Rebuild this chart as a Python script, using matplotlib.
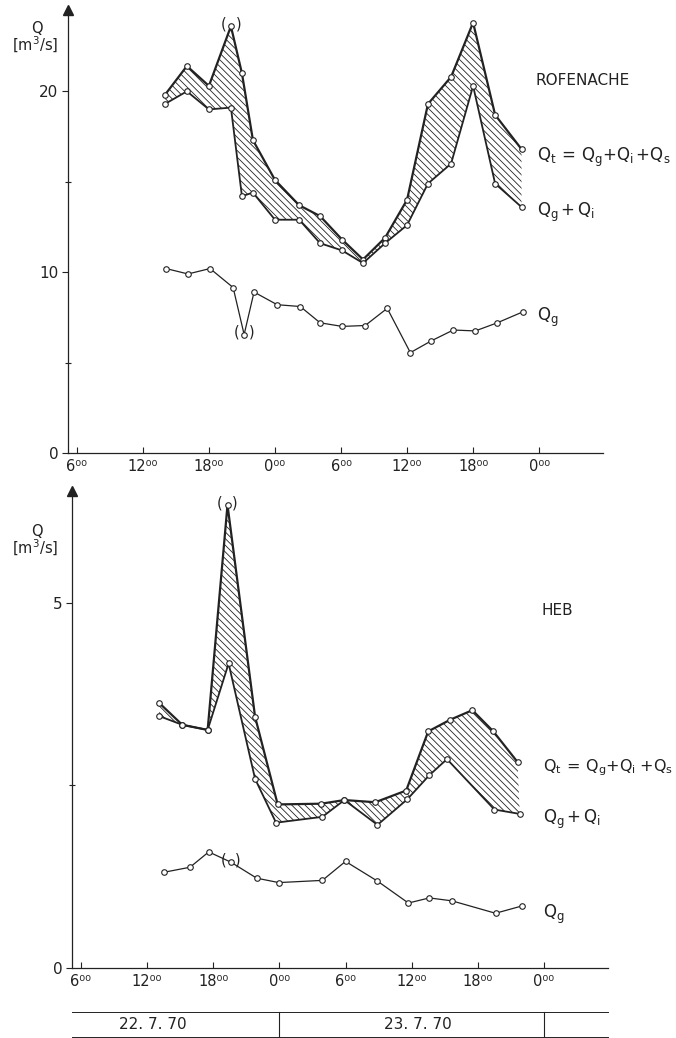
import numpy as np
import matplotlib.pyplot as plt
from matplotlib.transforms import blended_transform_factory

# hours counted from 22.7.70 00:00
tick_hours = [6, 12, 18, 24, 30, 36, 42, 48]
tick_labels = ['6⁰⁰', '12⁰⁰', '18⁰⁰', '0⁰⁰', '6⁰⁰', '12⁰⁰', '18⁰⁰', '0⁰⁰']
day_labels = ['22. 7. 70', '23. 7. 70']
day_centers = [12.5, 36.6]
day_bounds = [24, 48]

# ROFENACHE
rof_x = [14, 16, 18, 20, 21, 22, 24, 26.2, 28.1, 30.1, 32, 34, 36, 37.9, 40, 42, 44, 46.4]
rof_qt = [19.8, 21.4, 20.3, 23.6, 21.0, 17.3, 15.1, 13.7, 13.1, 11.8, 10.7, 11.9, 14.0, 19.3, 20.8, 23.8, 18.7, 16.8]
rof_qgi = [19.3, 20.0, 19.0, 19.1, 14.2, 14.4, 12.9, 12.9, 11.6, 11.2, 10.5, 11.6, 12.6, 14.9, 16.0, 20.3, 14.9, 13.6]
rof_g_x = [14.1, 16.1, 18.1, 20.2, 21.2, 22.1, 24.2, 26.3, 28.1, 30.1, 32.2, 34.2, 36.3, 38.2, 40.2, 42.2, 44.2, 46.5]
rof_qg = [10.2, 9.9, 10.2, 9.15, 6.55, 8.9, 8.2, 8.1, 7.2, 7.0, 7.05, 8.0, 5.55, 6.2, 6.8, 6.75, 7.2, 7.8]

# HEB
heb_t_x = [13.1, 15.2, 17.5, 19.3, 21.8, 23.85, 27.8, 29.9, 32.7, 35.5, 37.5, 39.5, 41.5, 43.4, 45.6]
heb_qt = [3.63, 3.33, 3.26, 6.34, 3.44, 2.24, 2.25, 2.30, 2.27, 2.43, 3.24, 3.40, 3.53, 3.24, 2.82]
heb_gi_x = [13.1, 15.2, 17.5, 19.4, 21.8, 23.7, 27.9, 29.9, 32.9, 35.6, 37.6, 39.2, 43.5, 45.8]
heb_qgi = [3.45, 3.33, 3.26, 4.17, 2.59, 1.99, 2.07, 2.30, 1.96, 2.31, 2.64, 2.86, 2.17, 2.11]
heb_g_x = [13.5, 15.9, 17.6, 19.6, 21.95, 23.95, 27.9, 30.0, 32.9, 35.7, 37.6, 39.65, 43.6, 46.0]
heb_qg = [1.31, 1.38, 1.59, 1.45, 1.23, 1.17, 1.20, 1.46, 1.19, 0.89, 0.96, 0.92, 0.75, 0.85]

ink = '#222222'
plt.rcParams['font.family'] = ['DejaVu Sans']
plt.rcParams['mathtext.fontset'] = 'dejavusans'
plt.rcParams['hatch.linewidth'] = 0.6

fig = plt.figure(figsize=(6.76, 10.38), dpi=100)
ax1 = fig.add_axes([0.1006, 0.5636, 0.7914, 0.4268])
ax2 = fig.add_axes([0.1065, 0.0674, 0.7929, 0.4595])


def draw_panel(ax, tx, qt, gix, qgi, gx, qg, ylim, major, minor):
    # hatched band between Qt and Qg+Qi
    ax.fill(np.concatenate([tx, gix[::-1]]), np.concatenate([qt, qgi[::-1]]),
            facecolor='none', edgecolor=ink, hatch='\\\\\\\\\\', linewidth=0)
    mk = dict(marker='o', ms=4, mfc='white', mec=ink, mew=0.8)
    ax.plot(tx, qt, color=ink, lw=1.6, **mk)
    ax.plot(gix, qgi, color=ink, lw=1.3, **mk)
    ax.plot(gx, qg, color=ink, lw=0.9, **mk)

    ax.set_xlim(5.2, 53.8)
    ax.set_ylim(*ylim)
    for s in ['top', 'right']:
        ax.spines[s].set_visible(False)
    for s in ['left', 'bottom']:
        ax.spines[s].set_linewidth(0.9)
        ax.spines[s].set_color(ink)
    ax.set_xticks(tick_hours)
    ax.set_xticklabels(tick_labels)
    ax.set_yticks(major)
    ax.set_yticks(minor, minor=True)
    ax.tick_params(axis='x', direction='in', length=4, width=0.8, pad=4,
                   labelsize=10.5, colors=ink)
    ax.tick_params(axis='y', which='major', direction='out', length=4, width=0.8,
                   pad=3, labelsize=11, colors=ink)
    ax.tick_params(axis='y', which='minor', direction='inout', length=4, width=0.8, colors=ink)
    # arrow head on the y axis
    ax.plot(0, 1, marker='^', ms=7, color=ink, transform=ax.transAxes, clip_on=False)
    ax.patch.set_alpha(0)


draw_panel(ax1, rof_x, rof_qt, rof_x, rof_qgi, rof_g_x, rof_qg,
           (0, 24.5), [0, 10, 20], [5, 15])
draw_panel(ax2, heb_t_x, heb_qt, heb_gi_x, heb_qgi, heb_g_x, heb_qg,
           (0, 6.53), [0, 5], [2.5])


def paren(ax, x, y, off=5.5):
    # the "( )" marks around doubtful readings
    ax.annotate('(', (x, y), xytext=(-off, 1.5), textcoords='offset points',
                ha='center', va='center', fontsize=10.5, color=ink)
    ax.annotate(')', (x, y), xytext=(off, 1.5), textcoords='offset points',
                ha='center', va='center', fontsize=10.5, color=ink)


paren(ax1, rof_x[3], rof_qt[3])
paren(ax1, rof_g_x[4], rof_qg[4])
paren(ax2, heb_t_x[3], heb_qt[3])
paren(ax2, heb_g_x[3], heb_qg[3], off=5)

# y axis titles
for ax, yq in [(ax1, 0.973), (ax2, 0.488)]:
    fig.text(0.055, yq, 'Q', ha='center', va='center', fontsize=10.5, color=ink)
    fig.text(0.052, yq - 0.016, '[m$^3$/s]', ha='center', va='center', fontsize=10.5, color=ink)

# curve labels
qt_lab = r'$\mathregular{Q_t\,{=}\,Q_g{+}Q_i\,{+}Q_s}$'
qt_lab2 = r'$\mathregular{Q_t\,{=}\,Q_g{+}Q_i\;{+}Q_s}$'
qgi_lab = r'$\mathregular{Q_g\,{+}\,Q_i}$'
qg_lab = r'$\mathregular{Q_g}$'
ax1.text(47.7, 20.6, 'ROFENACHE', fontsize=11, color=ink, va='center')
ax1.text(47.8, 16.35, qt_lab, fontsize=12, color=ink, va='center')
ax1.text(47.8, 13.3, qgi_lab, fontsize=12, color=ink, va='center')
ax1.text(47.8, 7.5, qg_lab, fontsize=12, color=ink, va='center')

ax2.text(47.8, 4.9, 'HEB', fontsize=11, color=ink, va='center')
ax2.text(47.9, 2.74, qt_lab2, fontsize=11.5, color=ink, va='center')
ax2.text(47.9, 2.03, qgi_lab, fontsize=12, color=ink, va='center')
ax2.text(47.9, 0.74, qg_lab, fontsize=12, color=ink, va='center')

# date strip under the lower panel
tr = blended_transform_factory(ax2.transData, fig.transFigure)
for yl in [0.0251, 0.0012]:
    ax2.plot([5.2, 53.8], [yl, yl], color=ink, lw=0.7, transform=tr, clip_on=False)
for xb in day_bounds:
    ax2.plot([xb, xb], [0.0012, 0.0251], color=ink, lw=0.8, transform=tr, clip_on=False)
for xc, lab in zip(day_centers, day_labels):
    ax2.text(xc, 0.013, lab, ha='center', va='center', fontsize=11, color=ink, transform=tr)

fig.savefig('out.png', dpi=100, facecolor='white')
